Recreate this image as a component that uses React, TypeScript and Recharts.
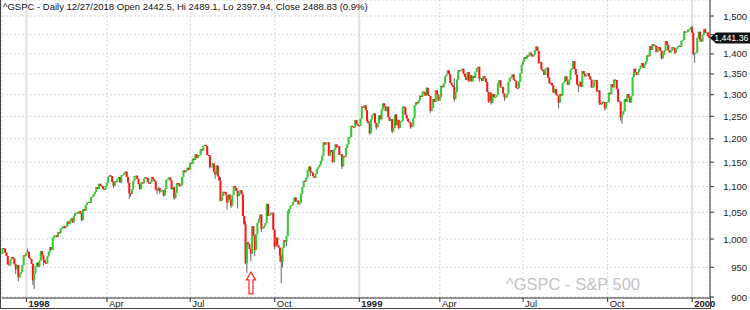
import { Bar, CartesianGrid, ComposedChart, ReferenceDot, ReferenceLine, XAxis, YAxis } from "recharts";

// daily closes, ^GSPC, 5 Dec 1997 .. 21 Jan 2000
const firstOpen = 973.1;
const closesDec97 = [983.79, 982.37, 975.78, 969.79, 954.94, 953.39, 963.39, 968.04, 965.54, 955.3, 946.78, 953.7, 932.7, 939.13, 941.64, 953.36, 970.84, 970.43];
const closes1998 = [
  975.04, 977.07, 966.58, 964.0, 956.05, 927.69, 939.21, 952.12, 957.94, 950.73, 961.51, 978.6, 970.81, 963.04, 957.59, 956.95, 969.02, 977.46, 985.49, 980.28,
  1001.27, 1006.0, 1006.9, 1003.54, 1012.46, 1010.74, 1019.01, 1020.01, 1024.14, 1020.09, 1022.76, 1032.08, 1028.28, 1034.21, 1038.14, 1030.56, 1042.9, 1048.67, 1049.34,
  1047.7, 1052.02, 1047.33, 1035.05, 1055.69, 1052.31, 1064.25, 1068.47, 1069.92, 1068.61, 1079.27, 1080.45, 1085.52, 1089.74, 1099.16, 1095.55, 1105.65, 1101.93, 1100.8, 1095.44, 1093.6, 1101.75,
  1108.15, 1120.01, 1122.7, 1121.38, 1109.55, 1101.65, 1110.67, 1109.69, 1115.75, 1119.32, 1108.17, 1122.72, 1123.65, 1126.67, 1130.54, 1119.58, 1107.9, 1086.54, 1085.11, 1094.63, 1111.75,
  1121.0, 1122.07, 1115.5, 1104.92, 1095.14, 1108.14, 1106.64, 1115.79, 1118.86, 1117.37, 1108.73, 1105.82, 1109.52, 1119.06, 1114.64, 1110.47, 1094.02, 1092.23, 1097.6, 1090.82,
  1090.98, 1093.22, 1082.73, 1094.83, 1113.86, 1115.72, 1118.41, 1112.28, 1094.58, 1098.84, 1077.01, 1087.59, 1107.11, 1106.37, 1100.65, 1103.21, 1119.49, 1132.88, 1129.28, 1133.2, 1138.49, 1133.84,
  1148.56, 1146.42, 1157.33, 1154.66, 1166.38, 1158.56, 1164.33, 1165.19, 1177.58, 1174.81, 1183.99, 1186.75, 1184.1, 1165.07, 1164.08, 1139.75, 1140.8, 1147.27, 1130.24, 1125.21, 1142.95, 1120.67,
  1112.44, 1072.12, 1081.43, 1089.63, 1089.45, 1083.14, 1068.98, 1084.22, 1074.91, 1062.75, 1083.67, 1101.2, 1098.06, 1091.6, 1081.24, 1088.14, 1092.85, 1084.19, 1042.59, 1027.14, 957.28,
  994.26, 990.47, 982.26, 973.89, 1023.46, 1006.2, 980.19, 1009.06, 1029.72, 1037.68, 1045.48, 1018.87, 1020.09, 1023.89, 1029.63, 1066.09, 1042.72, 1044.75, 1048.69, 1049.02, 1017.01,
  986.39, 1002.6, 988.56, 984.59, 970.68, 959.44, 984.39, 997.71, 994.8, 1005.53, 1047.49, 1056.42, 1062.39, 1063.93, 1069.92, 1078.48, 1070.67, 1072.32, 1065.34, 1068.09, 1085.93, 1098.67,
  1111.6, 1110.84, 1118.67, 1133.85, 1141.01, 1130.2, 1128.26, 1120.97, 1117.69, 1125.72, 1135.87, 1139.32, 1144.48, 1152.61, 1163.55, 1192.03, 1187.46, 1191.81, 1192.33, 1163.63,
  1175.28, 1171.25, 1150.14, 1176.74, 1187.7, 1181.38, 1183.49, 1165.02, 1166.46, 1141.2, 1162.83, 1161.94, 1179.98, 1188.03, 1202.84, 1203.57, 1228.54, 1226.27, 1225.49, 1241.81, 1231.93, 1229.23,
];
const closes1999 = [
  1228.1, 1244.78, 1272.34, 1269.73, 1275.09, 1263.88, 1239.51, 1234.4, 1212.19, 1243.26, 1252.0, 1256.62, 1235.16, 1225.19, 1233.98, 1252.31, 1243.17, 1265.37, 1279.64,
  1273.0, 1261.99, 1272.07, 1248.49, 1239.4, 1243.77, 1216.14, 1223.55, 1254.04, 1230.13, 1241.87, 1224.03, 1237.28, 1239.22, 1272.14, 1271.18, 1253.41, 1245.02, 1238.33,
  1236.16, 1225.5, 1227.7, 1246.64, 1275.47, 1282.73, 1279.84, 1286.84, 1297.68, 1294.59, 1307.26, 1306.38, 1297.82, 1316.55, 1299.29, 1297.01, 1262.14, 1268.59, 1289.99, 1282.8, 1310.17, 1300.75, 1286.37,
  1293.72, 1321.12, 1317.89, 1326.89, 1343.98, 1348.35, 1358.63, 1349.82, 1328.44, 1322.85, 1319.0, 1289.48, 1306.17, 1336.12, 1358.82, 1356.85, 1360.04, 1362.8, 1350.91, 1342.83, 1335.18,
  1354.63, 1332.0, 1347.31, 1332.05, 1345.0, 1340.3, 1355.61, 1364.0, 1367.56, 1337.8, 1339.49, 1333.32, 1344.23, 1338.83, 1330.29, 1306.65, 1284.4, 1304.76, 1281.41, 1301.84,
  1294.26, 1294.81, 1299.54, 1327.75, 1334.52, 1317.33, 1318.64, 1302.82, 1293.64, 1294.0, 1301.16, 1330.41, 1339.9, 1342.84, 1349.0, 1335.87, 1333.06, 1315.78, 1315.31, 1331.35, 1351.45, 1372.71,
  1380.99, 1391.22, 1388.12, 1395.86, 1394.42, 1403.28, 1399.1, 1393.56, 1398.17, 1409.62, 1418.78, 1407.65, 1377.1, 1379.29, 1360.97, 1356.94, 1347.76, 1362.84, 1365.4, 1341.03, 1328.72,
  1328.05, 1322.18, 1305.33, 1313.71, 1300.29, 1297.8, 1281.43, 1301.93, 1298.16, 1327.68, 1330.77, 1344.16, 1332.84, 1323.59, 1336.61, 1360.22, 1363.5, 1381.79, 1362.01, 1348.27, 1324.02, 1320.41,
  1331.07, 1319.11, 1357.24, 1350.45, 1344.15, 1347.66, 1351.66, 1344.13, 1336.29, 1317.97, 1318.48, 1335.42, 1335.53, 1307.58, 1310.51, 1280.41, 1277.36, 1283.31, 1282.2, 1268.37, 1282.71,
  1282.81, 1304.6, 1301.35, 1325.4, 1317.64, 1336.02, 1335.21, 1313.04, 1285.55, 1283.42, 1247.41, 1254.13, 1261.32, 1289.43, 1283.61, 1301.65, 1293.63, 1281.91, 1296.71, 1342.44, 1362.93,
  1354.12, 1347.74, 1354.93, 1362.64, 1370.23, 1377.01, 1365.28, 1373.46, 1381.46, 1396.06, 1394.39, 1420.07, 1410.71, 1424.94, 1422.0, 1420.94, 1404.64, 1417.08, 1416.62, 1407.83, 1388.91,
  1397.72, 1409.04, 1433.3, 1423.33, 1409.17, 1403.88, 1408.11, 1417.04, 1415.22, 1403.17, 1413.32, 1418.78, 1421.03, 1418.09, 1433.43, 1436.13, 1458.34, 1457.1, 1457.66, 1463.46, 1464.47, 1469.25,
];
const closesJan00 = [1455.22, 1399.42, 1402.11, 1403.45, 1441.47, 1457.6, 1438.56, 1432.25, 1449.68, 1465.15, 1455.14, 1455.9, 1445.57, 1441.36];

// visible shadows: [trading day, price]
const lowWicks = [
  [10, 938], [12, 926], [23, 920], [24, 913], [31, 953], [60, 1032], [84, 1097], [96, 1076], [97, 1080], [104, 1094],
  [117, 1085], [119, 1086], [122, 1080], [130, 1074], [157, 1137], [161, 1116], [165, 1071], [170, 1055], [173, 1058],
  [178, 1057], [184, 955], [185, 940], [188, 960], [191, 970], [196, 1013], [206, 982], [210, 960], [211, 923], [212, 950],
  [215, 987], [233, 1121], [250, 1149], [257, 1136], [276, 1236], [278, 1209], [283, 1220], [295, 1212], [300, 1220],
  [309, 1222], [324, 1258], [342, 1284], [361, 1331], [368, 1281], [370, 1277], [380, 1286], [406, 1375], [414, 1325],
  [421, 1268], [436, 1306], [446, 1316], [452, 1276], [456, 1263], [466, 1282], [468, 1240], [469, 1233], [499, 1386],
  [509, 1400], [523, 1397], [524, 1378], [528, 1431],
];
const highWicks = [
  [19, 983], [96, 1107], [165, 1119], [184, 1033], [189, 1024], [196, 1037], [200, 1066], [211, 970], [216, 1053],
  [250, 1176], [342, 1340], [404, 1420], [432, 1382], [522, 1474],
];

const tickDays = [18, 79, 142, 206, 270, 331, 394, 458, 522];
const tickLabels = ["1998", "Apr", "Jul", "Oct", "1999", "Apr", "Jul", "Oct", "2000"];
const yearDays = [18, 270, 522];
const priceTicks = [900, 950, 1000, 1050, 1100, 1150, 1200, 1250, 1300, 1350, 1400, 1450, 1500];
const lastClose = 1441.36;
const arrowDay = 188;
const arrowPrice = 942;

const green = "#33cc33";
const red = "#ff1414";

const closes = [...closesDec97, ...closes1998, ...closes1999, ...closesJan00];
const lowMap = new Map(lowWicks.map(([d, v]) => [d, v]));
const highMap = new Map(highWicks.map(([d, v]) => [d, v]));
const rows = closes.map((close, i) => {
  const open = i === 0 ? firstOpen : closes[i - 1];
  const low = Math.min(open, close, lowMap.get(i) ?? Infinity);
  const high = Math.max(open, close, highMap.get(i) ?? -Infinity);
  return { i, open, close, low, high, range: [low, high] };
});

function Candle(props: any) {
  const { x, y, width, height, payload } = props;
  if (x == null || y == null) return null;
  const cx = x + width / 2;
  const lh = Math.log(payload.high);
  const ll = Math.log(payload.low);
  const at = (v: number) => (lh > ll ? y + (height * (lh - Math.log(v))) / (lh - ll) : y);
  const yo = at(payload.open);
  const yc = at(payload.close);
  const top = Math.min(yo, yc);
  const h = Math.max(1, Math.abs(yo - yc));
  return (
    <g>
      <line x1={cx} x2={cx} y1={y} y2={y + height} stroke="#666" strokeWidth={1} />
      <rect x={cx - 1} y={top} width={2} height={h} fill={payload.close >= payload.open ? green : red} />
    </g>
  );
}

function DateTick({ x, y, payload }: any) {
  const k = tickDays.indexOf(payload.value);
  return (
    <text x={x + 2} y={y} dy={2.5} fontSize={9.5} fontFamily="Arial" fontWeight={yearDays.includes(payload.value) ? 700 : 400} fill="#222">
      {tickLabels[k]}
    </text>
  );
}

function PriceTick({ x, y, payload }: any) {
  if (payload.value === 1450) return null;
  return (
    <text x={x + 31} y={y} dy={3.5} fontSize={9.5} fontFamily="Arial" textAnchor="end" fill="#222">
      {payload.value.toLocaleString("en-US")}
    </text>
  );
}

function PriceTag(props: any) {
  const { viewBox } = props;
  const x = viewBox.x + viewBox.width;
  const y = viewBox.y;
  return (
    <g>
      <polygon points={`${x},${y} ${x + 6},${y - 5.5} ${x + 40},${y - 5.5} ${x + 40},${y + 5.5} ${x + 6},${y + 5.5}`} fill="#111" />
      <text x={x + 38.5} y={y} dy={3.2} fontSize={8.8} fontFamily="Arial" textAnchor="end" fill="#fff">
        {lastClose.toLocaleString("en-US", { minimumFractionDigits: 2 })}
      </text>
    </g>
  );
}

function UpArrow({ cx, cy }: any) {
  return (
    <polygon
      points={`${cx},${cy} ${cx + 4.5},${cy + 8} ${cx + 2},${cy + 8} ${cx + 2},${cy + 22} ${cx - 2},${cy + 22} ${cx - 2},${cy + 8} ${cx - 4.5},${cy + 8}`}
      fill="#fff"
      stroke="#ff2020"
      strokeWidth={1.2}
    />
  );
}

export default function App() {
  return (
    <div style={{ position: "relative", width: 750, height: 310, background: "#fff" }}>
      <style>{"body{margin:0}"}</style>
      <ComposedChart width={750} height={310} data={rows} margin={{ top: 0, right: 0, bottom: 0, left: 2 }} barCategoryGap={0}>
        <CartesianGrid stroke="#d6d6d6" strokeDasharray="2 2" />
        {yearDays.map((d) => (
          <ReferenceLine key={d} x={d} stroke="#e0e0e0" strokeWidth={2} zIndex={-50} />
        ))}
        <XAxis dataKey="i" ticks={tickDays} interval={0} height={12} tickSize={4} tick={<DateTick />} axisLine={{ stroke: "#333" }} tickLine={{ stroke: "#333" }} />
        <YAxis
          orientation="right"
          width={40}
          scale="log"
          domain={[898.4, 1544.3]}
          allowDataOverflow
          ticks={priceTicks}
          interval={0}
          tickSize={4}
          tick={<PriceTick />}
          axisLine={{ stroke: "#333" }}
          tickLine={{ stroke: "#333" }}
        />
        <Bar dataKey="range" shape={<Candle />} isAnimationActive={false} />
        <ReferenceLine y={lastClose} stroke="none" label={(p: any) => <PriceTag {...p} />} />
        <ReferenceDot x={arrowDay} y={arrowPrice} shape={<UpArrow />} />
      </ComposedChart>
      <svg width={750} height={310} style={{ position: "absolute", left: 0, top: 0, pointerEvents: "none" }}>
        <text x={3} y={9.5} fontSize={9.5} fontFamily="Arial" fill="#111">
          ^GSPC - Daily 12/27/2018 Open 2442.5, Hi 2489.1, Lo 2397.94, Close 2488.83 (0.9%)
        </text>
        <text x={506} y={290} fontSize={16.5} fontFamily="Arial" fill="#c4c4c4">
          ^GSPC - S&amp;P 500
        </text>
        <line x1={0.5} x2={0.5} y1={0} y2={309} stroke="#444" />
        <line x1={0} x2={711} y1={308.5} y2={308.5} stroke="#444" />
        <line x1={710.5} x2={710.5} y1={296} y2={309} stroke="#444" />
      </svg>
    </div>
  );
}
